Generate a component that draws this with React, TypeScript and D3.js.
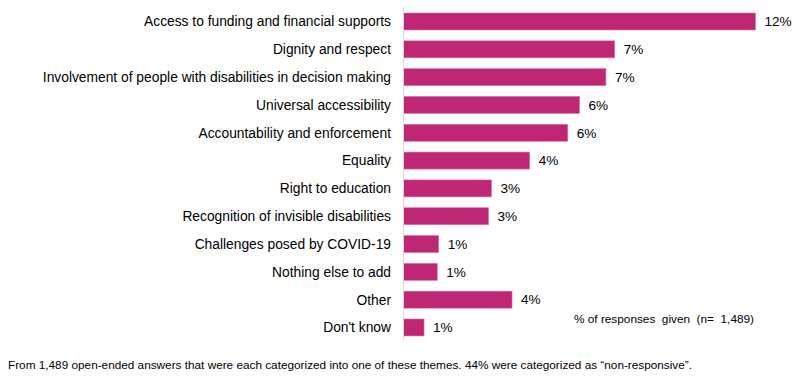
import React from "react";
import * as d3 from "d3";

const categories = [
  "Access to funding and financial supports",
  "Dignity and respect",
  "Involvement of people with disabilities in decision making",
  "Universal accessibility",
  "Accountability and enforcement",
  "Equality",
  "Right to education",
  "Recognition of invisible disabilities",
  "Challenges posed by COVID-19",
  "Nothing else to add",
  "Other",
  "Don't know",
];
const values = [12.0, 7.2, 6.9, 6.0, 5.6, 4.3, 3.0, 2.9, 1.2, 1.15, 3.7, 0.7];
const valueLabels = ["12%", "7%", "7%", "6%", "6%", "4%", "3%", "3%", "1%", "1%", "4%", "1%"];
const noteText = "% of responses  given  (n=  1,489)";
const footerText =
  "From 1,489 open-ended answers that were each categorized into one of these themes. 44% were categorized as \u201cnon-responsive\u201d.";

const W = 800;
const H = 384;
const x0 = 403.5;
const x = d3.scaleLinear().domain([0, 12]).range([x0, 755.5]);
const y = d3.scaleBand<string>().domain(categories).range([7.6, 341.4]).paddingInner(0.39).paddingOuter(0.195);

export default function App() {
  const font = "Arial, 'Liberation Sans', Helvetica, sans-serif";
  return (
    <svg width={W} height={H} style={{ position: "absolute", left: 0, top: 0, background: "#fff" }} fontFamily={font}>
      {categories.map((c, i) => {
        const yy = y(c)!;
        const bw = y.bandwidth();
        return (
          <g key={c}>
            <text x={391} y={yy + bw / 2} dy="0.35em" textAnchor="end" fontSize={13.8} fill="#000">
              {c}
            </text>
            <rect x={x0} y={yy} width={x(values[i]) - x0} height={bw} fill="#BF2673" stroke="#D9739F" strokeWidth={0.6} />
            <text x={x(values[i]) + 9} y={yy + bw / 2} dy="0.35em" fontSize={13.6} fill="#000">
              {valueLabels[i]}
            </text>
          </g>
        );
      })}
      <line x1={x0} x2={x0} y1={7} y2={340} stroke="#d9d9d9" strokeWidth={1} />
      <text x={574} y={319} dy="0.35em" fontSize={11.8} fill="#000" style={{ whiteSpace: "pre" }}>
        {noteText}
      </text>
      <text x={8} y={365} dy="0.35em" fontSize={11.8} fill="#000" textLength={684} lengthAdjust="spacingAndGlyphs">
        {footerText}
      </text>
    </svg>
  );
}
